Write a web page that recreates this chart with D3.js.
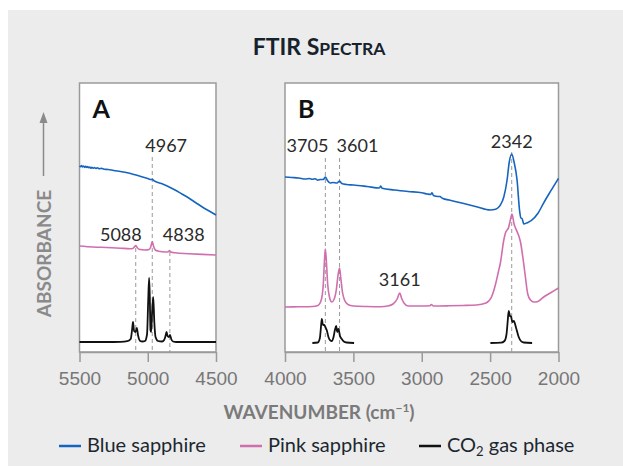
<!DOCTYPE html>
<html>
<head>
<meta charset="utf-8">
<script src="https://cdn.jsdelivr.net/npm/d3@7"></script>
<style>
  body { margin: 0; background: #fff; }
  svg { display: block; }
</style>
</head>
<body>
<div id="chart"></div>
<script>
// wavenumber (cm-1), absorbance (arbitrary units, curves offset for display)
const blueA = [[5500,186],[5492,185.2],[5485,186.5],[5478,185],[5470,186],[5462,184.6],[5455,185.8],[5447,184.5],
  [5440,185.5],[5432,184.2],[5425,185],[5417,183.8],[5410,184.8],[5400,183.8],[5390,184.5],[5380,183.5],
  [5370,184.2],[5355,183.3],[5340,183.6],[5320,182.8],[5290,182.5],[5250,181.5],[5200,180.5],[5150,179.3],
  [5100,177.5],[5050,175.5],[5000,173.5],[4975,172.5],[4967,172.6],[4955,171.3],[4900,168.5],[4850,165.5],
  [4800,162],[4750,158],[4700,154],[4650,149.5],[4600,145],[4550,141],[4500,137]];
const pinkA = [[5500,106],[5400,105],[5300,104.5],[5200,103.8],[5130,103.3],[5110,103.5],[5095,105.5],[5088,106.5],
  [5080,105],[5065,102.8],[5020,102],[4990,102.5],[4978,105],[4967,110.5],[4958,106],[4945,102],[4920,100.8],
  [4870,100],[4850,100.2],[4840,101.5],[4832,100],[4800,99.2],[4700,98.3],[4600,97.6],[4500,97]];
const co2A = [[5500,10],[5300,10],[5200,10.2],[5150,10.8],[5125,13],[5115,22],[5108,30],[5100,21],[5090,20],
  [5080,24],[5070,16],[5055,11],[5040,10.5],[5020,11],[5005,18],[4997,50],[4990,74],[4985,55],[4980,22],
  [4975,20],[4968,40],[4960,55],[4952,30],[4943,15],[4925,11],[4895,10.5],[4880,12],[4870,16],[4862,20],
  [4855,16],[4845,15],[4837,17],[4828,13],[4815,10.5],[4790,10],[4600,10],[4500,10]];

const blueB = [[4000,175],[3950,174.5],[3900,174],[3850,173],[3820,173.5],[3800,172.7],[3780,173.3],[3760,171.8],
  [3740,172.5],[3720,172.5],[3705,175],[3690,171.5],[3670,169],[3650,169.5],[3620,169],[3601,171],[3585,168.5],
  [3550,167.5],[3500,167],[3400,165.5],[3310,164],[3300,166],[3290,163.8],[3200,162],[3100,160.5],[3000,159.3],
  [2960,158],[2935,157.5],[2925,159.3],[2915,156.5],[2880,155.5],[2865,155.5],[2858,154.7],[2845,153.5],
  [2800,152],[2700,148.7],[2600,145.3],[2500,142],[2460,142.7],[2440,144.5],[2425,147],[2400,155],[2376,172],
  [2360,190],[2342,198],[2325,190],[2303,172],[2285,142],[2275,134],[2267,133.5],[2260,130.5],[2254,128],
  [2229,129.3],[2200,131.3],[2150,138.7],[2110,148.7],[2060,160.3],[2000,173.7]];
const pinkB = [[4000,45],[3900,45.2],[3800,45.5],[3760,46.5],[3735,52],[3720,68],[3712,90],[3705,103],[3698,92],
  [3688,68],[3675,55],[3658,50],[3640,53],[3625,62],[3612,77],[3601,84],[3592,74],[3580,60],[3565,52],
  [3540,47.5],[3500,46],[3400,45.5],[3300,45.3],[3250,46],[3210,48],[3180,53],[3161,59],[3148,54],[3130,49],
  [3100,46],[3000,46],[2940,46.3],[2930,47.5],[2915,46],[2800,46.2],[2700,46.5],[2600,47],[2530,49],[2490,55],
  [2460,68],[2440,80],[2425,89],[2400,112],[2388,119],[2364,125],[2352,132],[2340,138],[2325,128],[2308,122],
  [2290,116],[2278,110],[2260,94],[2242,75],[2225,58],[2205,52],[2180,50],[2156,50.3],[2130,52.5],[2108,55],
  [2060,59],[2000,64]];
const co2B1 = [[3800,9],[3760,9.5],[3745,14],[3737,25],[3731,33],[3722,27],[3712,27],[3705,25],[3695,22],
  [3680,14],[3668,11.5],[3658,11],[3645,15],[3635,22],[3626,26],[3618,20],[3609,23],[3598,16],[3585,13],
  [3570,10.5],[3550,9.5],[3495,9]];
const co2B2 = [[2498,9],[2420,9.3],[2395,11],[2380,18],[2372,30],[2364,41],[2355,36],[2347,35.5],[2338,30],
  [2327,31],[2310,24],[2291,15],[2275,11],[2254,9.5],[2193,9]];

const ticksA = [5500, 5000, 4500];
const ticksB = [4000, 3500, 3000, 2500, 2000];
const peaksA = [5088, 4967, 4838];
const peaksB = [3705, 3601, 2342];
const labelB3161 = 3161;

const W = 623, H = 466;
const colBlue = "#1565c0", colPink = "#cf6fae", colBlack = "#111111";
const humanist = "Lato, 'Open Sans', sans-serif";

const svg = d3.select("#chart").append("svg")
  .attr("width", W).attr("height", H);

svg.append("rect").attr("x", 8).attr("y", 10).attr("width", W - 8).attr("height", H - 10)
  .attr("fill", "#ececec");

const y = d3.scaleLinear().domain([0, 270]).range([352, 82]);
const xA = d3.scaleLinear().domain([5500, 4500]).range([79.5, 216]);
const xB = d3.scaleLinear().domain([4000, 2000]).range([285, 558.5]);

// title
const title = svg.append("text")
  .attr("x", 319).attr("y", 55).attr("text-anchor", "middle")
  .attr("font-family", humanist).attr("font-weight", 700).attr("fill", "#16222c")
  .attr("font-size", 23);
title.append("tspan").text("FTIR S");
title.append("tspan").attr("font-size", 17.5).text("PECTRA");

function panel(x, ticks, label) {
  const g = svg.append("g");
  const [x0, x1] = x.range();
  g.append("rect").attr("x", x0).attr("y", 83).attr("width", x1 - x0).attr("height", 352 - 83)
    .attr("fill", "#fff").attr("stroke", "#9a9a9a").attr("stroke-width", 1.5);

  const ax = g.append("g").attr("transform", "translate(0,352)")
    .call(d3.axisBottom(x).tickValues(ticks).tickFormat(d3.format("d"))
      .tickSize(10).tickSizeOuter(0).tickPadding(10));
  ax.select(".domain").attr("stroke", "#9a9a9a").attr("stroke-width", 1.5);
  ax.selectAll(".tick line").attr("stroke", "#9a9a9a").attr("stroke-width", 1.5);
  ax.selectAll(".tick text").attr("fill", "#777").attr("font-size", 19)
    .attr("font-family", "'Liberation Sans', Arial, sans-serif");

  g.append("text").attr("x", x0 + 13).attr("y", 118)
    .attr("font-family", humanist).attr("font-weight", 700).attr("font-size", 25)
    .attr("fill", "#111").text(label);
  return g;
}

const gA = panel(xA, ticksA, "A");
const gB = panel(xB, ticksB, "B");

function dashed(g, x, wn, vTop) {
  g.append("line").attr("x1", x(wn)).attr("x2", x(wn))
    .attr("y1", y(vTop)).attr("y2", y(0))
    .attr("stroke", "#999").attr("stroke-width", 1).attr("stroke-dasharray", "4,3");
}
// dashed guides (top in absorbance units)
dashed(gA, xA, peaksA[0], 104);
dashed(gA, xA, peaksA[1], 195);
dashed(gA, xA, peaksA[2], 100);
dashed(gB, xB, peaksB[0], 194);
dashed(gB, xB, peaksB[1], 194);
dashed(gB, xB, peaksB[2], 200);

function curve(g, x, data, color, w) {
  const line = d3.line().x(d => x(d[0])).y(d => y(d[1])).curve(d3.curveMonotoneX);
  g.append("path").datum(data.slice().sort((a, b) => a[0] - b[0]))
    .attr("fill", "none").attr("stroke", color).attr("stroke-width", w)
    .attr("stroke-linejoin", "round").attr("d", line);
}
curve(gA, xA, blueA, colBlue, 1.6);
curve(gA, xA, pinkA, colPink, 1.6);
curve(gA, xA, co2A, colBlack, 1.8);
curve(gB, xB, blueB, colBlue, 1.6);
curve(gB, xB, pinkB, colPink, 1.6);
curve(gB, xB, co2B1, colBlack, 1.8);
curve(gB, xB, co2B2, colBlack, 1.8);

function peakLabel(x, wn, v, anchor, dx) {
  svg.append("text").attr("x", x(wn) + dx).attr("y", y(v))
    .attr("text-anchor", anchor).attr("font-family", humanist).attr("font-size", 18)
    .attr("fill", "#2a2a2a").text(wn);
}
peakLabel(xA, peaksA[0], 111, "end", 6);
peakLabel(xA, peaksA[1], 200, "start", -7);
peakLabel(xA, peaksA[2], 111, "start", -7);
peakLabel(xB, peaksB[0], 200, "end", 3);
peakLabel(xB, peaksB[1], 200, "start", -3);
peakLabel(xB, peaksB[2], 204, "middle", 0);
peakLabel(xB, labelB3161, 66, "middle", 0);

// y label and arrow
svg.append("text").attr("transform", "translate(51,253.5) rotate(-90)")
  .attr("text-anchor", "middle").attr("font-family", humanist).attr("font-weight", 700)
  .attr("font-size", 19).attr("fill", "#8a8a8a").text("ABSORBANCE");
svg.append("line").attr("x1", 43.5).attr("x2", 43.5).attr("y1", 176).attr("y2", 120)
  .attr("stroke", "#8a8a8a").attr("stroke-width", 1.5);
svg.append("path").attr("d", "M43.5,112 L39.5,123 L47.5,123 Z").attr("fill", "#8a8a8a");

// x axis title
const xt = svg.append("text").attr("x", 319).attr("y", 419).attr("text-anchor", "middle")
  .attr("font-family", humanist).attr("font-weight", 700).attr("font-size", 19).attr("fill", "#7a7a7a");
xt.append("tspan").text("WAVENUMBER (cm");
xt.append("tspan").attr("font-size", 12).attr("dy", -7).text("\u22121");
xt.append("tspan").attr("dy", 7).text(")");

// legend
const legendNames = ["Blue sapphire", "Pink sapphire", "CO2 gas phase"];
const legendColors = [colBlue, colPink, colBlack];
const legendX = [59, 240, 419];
legendNames.forEach((name, i) => {
  const lx = legendX[i];
  svg.append("line").attr("x1", lx).attr("x2", lx + 22).attr("y1", 446).attr("y2", 446)
    .attr("stroke", legendColors[i]).attr("stroke-width", 2.5);
  const t = svg.append("text").attr("x", lx + 28).attr("y", 452)
    .attr("font-family", humanist).attr("font-size", 20).attr("fill", "#1c2730");
  if (name.startsWith("CO2")) {
    t.append("tspan").text("CO");
    t.append("tspan").attr("font-size", 13).attr("dy", 4).text("2");
    t.append("tspan").attr("dy", -4).text(" gas phase");
  } else {
    t.text(name);
  }
});
</script>
</body>
</html>
